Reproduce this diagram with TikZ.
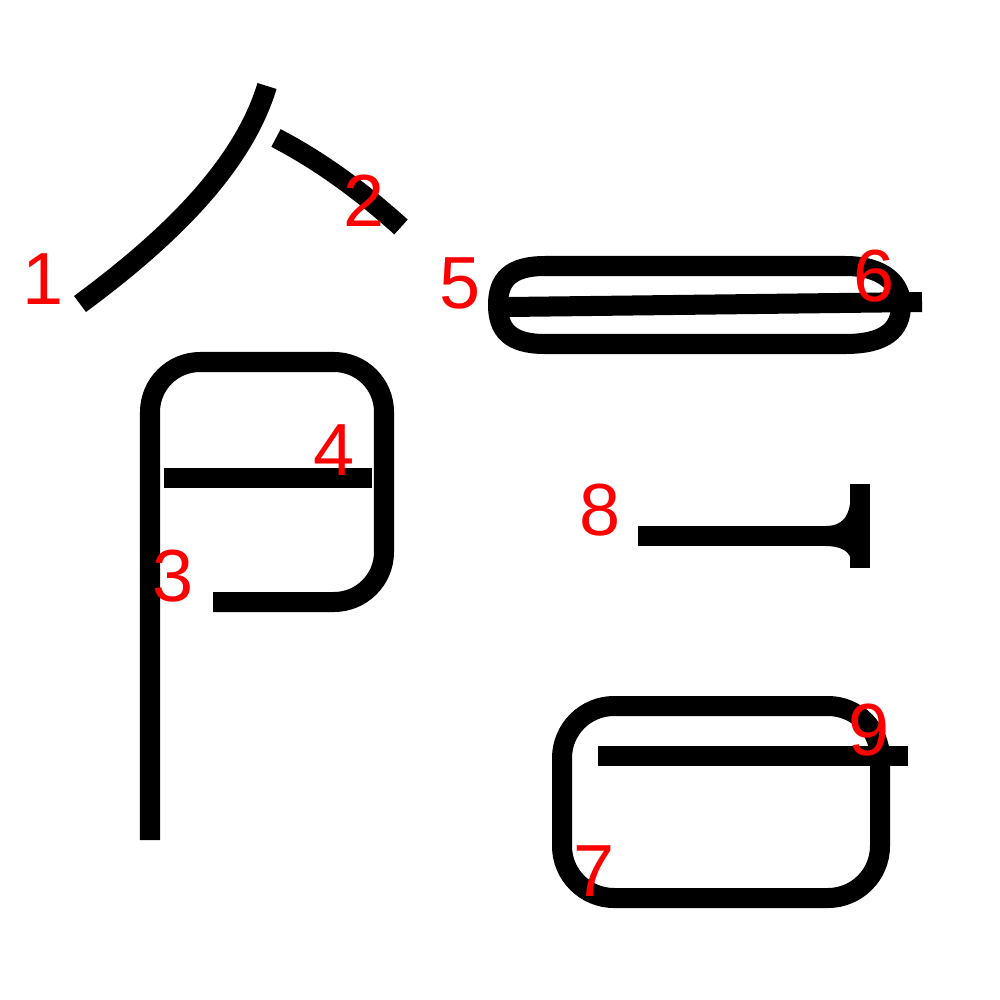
\documentclass[tikz,border=0pt]{standalone}
\usepackage{fontspec}
\setmainfont{Liberation Sans}
\begin{document}
\begin{tikzpicture}[x=0.01cm, y=-0.01cm,
        stroke/.style={draw=black, line width=0.2cm},
        num/.style={text=red, font=\fontsize{21}{21}\selectfont, inner sep=0pt}
    ]
        \useasboundingbox (0,0) rectangle (1000,1000);
        % strokes
        \draw[stroke] (267,86) .. controls (243,165) and (172,236) .. (80,304);
        \draw[stroke] (276,138) .. controls (320,161) and (360,190) .. (401,227);
        \draw[stroke, rounded corners=0.5cm] (150,840) -- (150,362) -- (384,362) -- (384,602) -- (213,602);
        \draw[stroke] (164,478) -- (372,478);
        \draw[stroke] (508,307) -- (922,302);
        \draw[stroke] (545,266) -- (845,266) .. controls (885,266) and (901,285) .. (901,305)
            .. controls (901,330) and (885,344) .. (845,344) -- (545,344)
            .. controls (510,344) and (498,330) .. (498,305)
            .. controls (498,280) and (510,266) .. (545,266) -- cycle;
        \draw[stroke, rounded corners=0.52cm] (562,706) rectangle (880,898);
        \draw[stroke] (638,536) -- (851,536);
        \draw[stroke] (860,484) -- (860,568);
        \fill (851,490) .. controls (851,518) and (842,526) .. (825,526) -- (851,526) -- cycle;
        \fill (825,546) .. controls (842,546) and (851,552) .. (851,562) -- (851,546) -- cycle;
        \draw[stroke] (598,756) -- (908,756);
        % numbers
        \node[num] (n1) at (43,279) {1};
        \node[num] (n2) at (364,201) {2};
        \node[num] (n3) at (173,576) {3};
        \node[num] (n4) at (334,450) {4};
        \node[num] (n5) at (460,283) {5};
        \node[num] (n6) at (874,276) {6};
        \node[num] (n7) at (594,871) {7};
        \node[num] (n8) at (600,510) {8};
        \node[num] (n9) at (869,730) {9};
    \end{tikzpicture}
\end{document}
